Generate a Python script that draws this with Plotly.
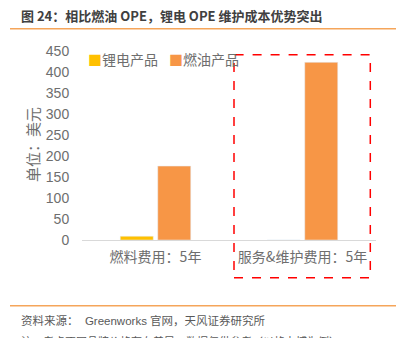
import plotly.graph_objects as go

# 5-year cost of ownership (USD), battery vs. gas outdoor power equipment
categories = ["燃料费用：5年", "服务&维护费用：5年"]
series_names = ["锂电产品", "燃油产品"]
lithium_cost = [9, 0]
fuel_cost = [176, 423]
y_ticks = [0, 50, 100, 150, 200, 250, 300, 350, 400, 450]

colors = ["#FFC000", "#F79646"]
W, H = 406, 338
ML, MR, MT, MB = 82, 30, 51, 98
PW, PH = W - ML - MR, H - MT - MB

FONT = "Liberation Sans, Noto Sans CJK SC, sans-serif"
CJK = "Noto Sans CJK SC, sans-serif"
GRAY = "#6E6E6E"


def px_x(p):
    return (p - ML) / PW


def px_y(p):
    return (H - MB - p) / PH


fig = go.Figure()
for name, vals, col in zip(series_names, [lithium_cost, fuel_cost], colors):
    fig.add_trace(go.Bar(x=categories, y=vals, name=name, marker_color=col,
                         showlegend=False))

annotations = [
    dict(text="<b>图 24：相比燃油 OPE，锂电 OPE 维护成本优势突出</b>",
         x=px_x(19), y=px_y(15), xanchor="left", yanchor="middle",
         font=dict(family=CJK, size=13, color="#404040")),
    dict(text="单位：美元", textangle=-90, x=px_x(32), y=px_y(145),
         xanchor="center", yanchor="middle",
         font=dict(family=CJK, size=15, color=GRAY)),
    dict(text="资料来源：  Greenworks 官网，天风证券研究所",
         x=px_x(19), y=px_y(320), xanchor="left", yanchor="middle",
         font=dict(family=FONT, size=11.5, color="#595959")),
    dict(text="注：考虑不同品牌价格存在差异，数据仅供参考（以格力博为例）",
         x=px_x(19), y=px_y(333), xanchor="left", yanchor="top",
         font=dict(family=FONT, size=11, color="#595959")),
]

# legend entries: coloured square followed by the series name
legend_x = [86, 167]
for name, col, lx in zip(series_names, colors, legend_x):
    annotations.append(dict(
        text=f"<span style='color:{col}'>■</span>{name}",
        x=px_x(lx), y=px_y(59), xanchor="left", yanchor="middle",
        font=dict(family=CJK, size=14, color=GRAY)))

for a in annotations:
    a.update(xref="paper", yref="paper", showarrow=False)

shapes = [
    dict(type="line", xref="paper", yref="paper", x0=px_x(10), x1=px_x(396),
         y0=px_y(28.7), y1=px_y(28.7), line=dict(color="#F5A55A", width=1.5)),
    dict(type="line", xref="paper", yref="paper", x0=px_x(10), x1=px_x(396),
         y0=px_y(305.7), y1=px_y(305.7), line=dict(color="#F5A55A", width=1.5)),
    dict(type="rect", xref="paper", yref="paper", x0=px_x(234), x1=px_x(370.3),
         y0=px_y(277.7), y1=px_y(54.7),
         line=dict(color="#FF0000", width=1.5, dash="dash")),
]

fig.update_layout(
    width=W, height=H,
    margin=dict(l=ML, r=MR, t=MT, b=MB, pad=0),
    paper_bgcolor="white", plot_bgcolor="white",
    barmode="group", bargap=0.49, bargroupgap=0.12,
    font=dict(family=FONT, color=GRAY),
    annotations=annotations, shapes=shapes,
    xaxis=dict(showline=True, linecolor="#D9D9D9", linewidth=1,
               ticks="", showgrid=False, ticklabelstandoff=4,
               tickfont=dict(family=CJK, size=14, color=GRAY)),
    yaxis=dict(range=[0, 450], tickvals=y_ticks, showgrid=False,
               zeroline=False, showline=False,
               ticks="outside", ticklen=9, tickcolor="rgba(0,0,0,0)",
               tickfont=dict(family=FONT, size=14, color=GRAY)),
)

fig.write_html("out.html")
